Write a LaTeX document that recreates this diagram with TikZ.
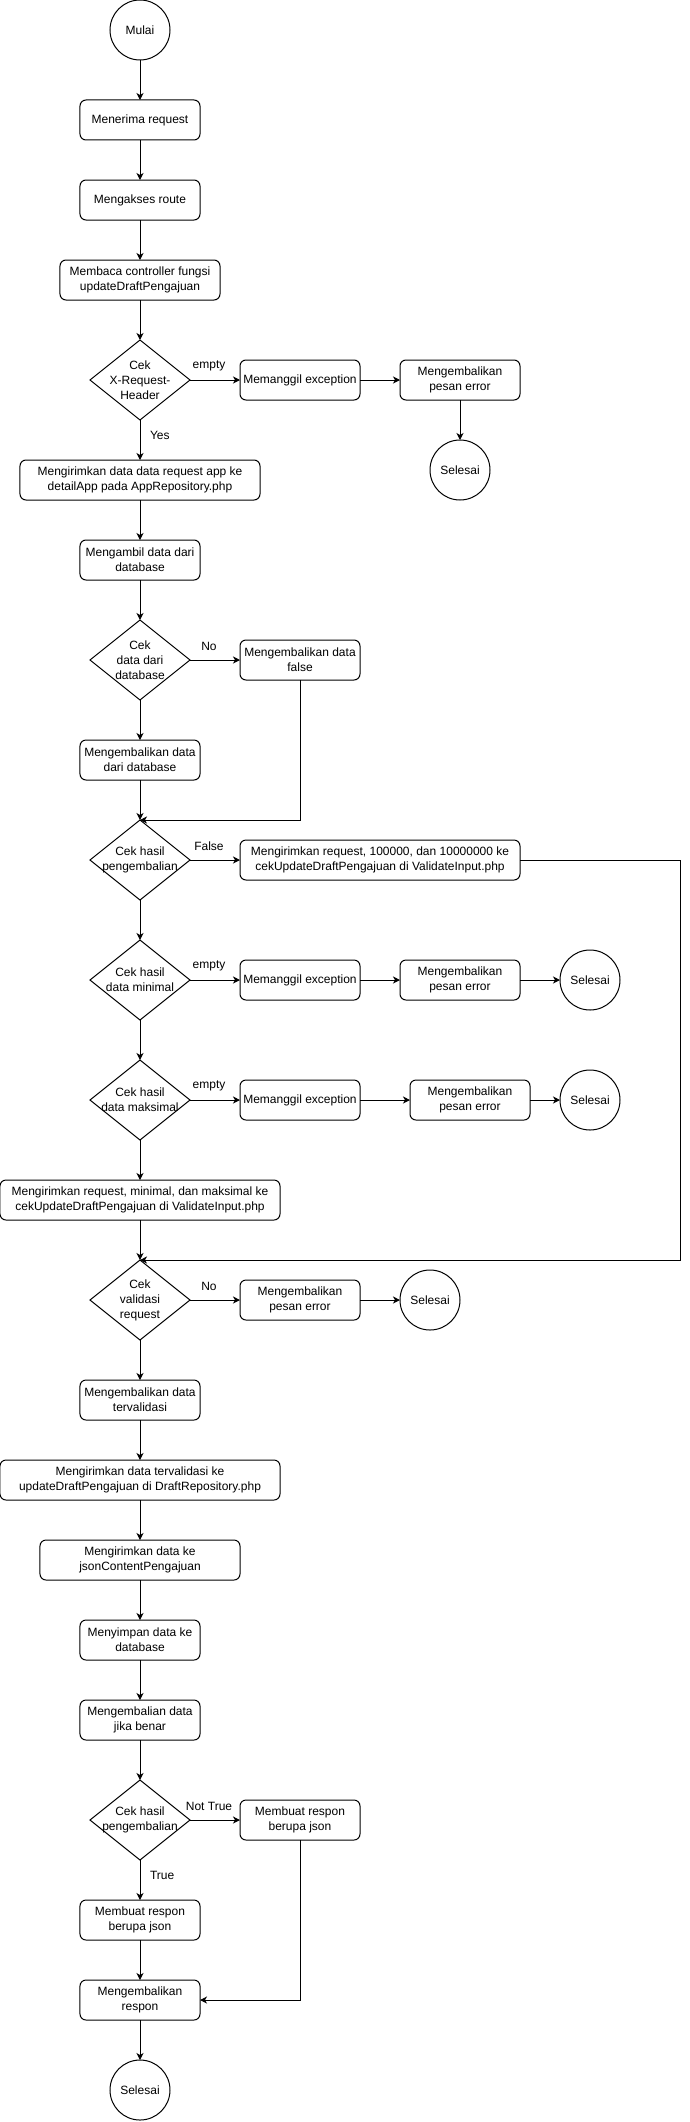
\documentclass[tikz,border=0pt]{standalone}
\usepackage{fontspec}
\setmainfont{Liberation Sans}
\usetikzlibrary{shapes.geometric, positioning, arrows.meta}

\begin{document}
\begin{tikzpicture}[
    x=1pt, y=1pt,
    >={Stealth[length=7pt, width=7pt, inset=2pt]},
    line width=1pt,
    font=\fontsize{12}{15}\selectfont,
    node distance=40pt,
    every node/.style={outer sep=0pt},
    procBox/.style={draw, rectangle, rounded corners=6pt, minimum width=120pt, minimum height=40pt, align=center, inner sep=2pt},
    decision/.style={draw, diamond, minimum width=100pt, minimum height=80pt, inner sep=-8pt, align=center},
    terminal/.style={draw, circle, minimum size=60pt, inner sep=0pt},
    edgeLabel/.style={inner sep=1pt},
  ]
  \useasboundingbox (-140,30) rectangle (549,-2092);
  % main flow
  \node[terminal] (mulai) at (0,0) {Mulai};
  \node[procBox, below=of mulai] (terima) {Menerima request};
  \node[procBox, below=of terima] (akses) {Mengakses route};
  \node[procBox, minimum width=160pt, below=of akses] (baca) {Membaca controller fungsi\\updateDraftPengajuan};
  \node[decision, below=of baca] (cekHeader) {Cek\\X-Request-\\Header};
  \node[procBox, minimum width=240pt, below=of cekHeader] (kirimApp) {Mengirimkan data data request app ke\\detailApp pada AppRepository.php};
  \node[procBox, below=of kirimApp] (ambil) {Mengambil data dari\\database};
  \node[decision, below=of ambil] (cekData) {Cek\\data dari\\database};
  \node[procBox, below=of cekData] (balikData) {Mengembalikan data\\dari database};
  \node[decision, below=of balikData] (cekHasil) {Cek hasil\\pengembalian};
  \node[decision, below=of cekHasil] (cekMin) {Cek hasil\\data minimal};
  \node[decision, below=of cekMin] (cekMax) {Cek hasil\\data maksimal};
  \node[procBox, minimum width=280pt, below=of cekMax] (kirimMinMax) {Mengirimkan request, minimal, dan maksimal ke\\cekUpdateDraftPengajuan di ValidateInput.php};
  \node[decision, below=of kirimMinMax] (cekValid) {Cek\\validasi\\request};
  \node[procBox, below=of cekValid] (balikValid) {Mengembalikan data\\tervalidasi};
  \node[procBox, minimum width=280pt, below=of balikValid] (kirimDraft) {Mengirimkan data tervalidasi ke\\updateDraftPengajuan di DraftRepository.php};
  \node[procBox, minimum width=200pt, below=of kirimDraft] (kirimJson) {Mengirimkan data ke\\jsonContentPengajuan};
  \node[procBox, below=of kirimJson] (simpan) {Menyimpan data ke\\database};
  \node[procBox, below=of simpan] (balikBenar) {Mengembalian data\\jika benar};
  \node[decision, below=of balikBenar] (cekAkhir) {Cek hasil\\pengembalian};
  \node[procBox, below=of cekAkhir] (responTrue) {Membuat respon\\berupa json};
  \node[procBox, below=of responTrue] (kembaliRespon) {Mengembalikan\\respon};
  \node[terminal, below=of kembaliRespon] (selesaiAkhir) {Selesai};
  % side branches
  \node[procBox, right=50pt of cekHeader] (exc1) {Memanggil exception};
  \node[procBox, right=of exc1] (err1) {Mengembalikan\\pesan error};
  \node[terminal, below=of err1] (selesai1) {Selesai};
  \node[procBox, right=50pt of cekData] (balikFalse) {Mengembalikan data\\false};
  \node[procBox, minimum width=280pt, right=50pt of cekHasil] (kirimBatas) {Mengirimkan request, 100000, dan 10000000 ke\\cekUpdateDraftPengajuan di ValidateInput.php};
  \node[procBox, right=50pt of cekMin] (exc2) {Memanggil exception};
  \node[procBox, right=of exc2] (err2) {Mengembalikan\\pesan error};
  \node[terminal, right=of err2] (selesai2) {Selesai};
  \node[procBox, right=50pt of cekMax] (exc3) {Memanggil exception};
  \node[procBox, right=50pt of exc3] (err3) {Mengembalikan\\pesan error};
  \node[terminal, right=30pt of err3] (selesai3) {Selesai};
  \node[procBox, right=50pt of cekValid] (err4) {Mengembalikan\\pesan error};
  \node[terminal, right=of err4] (selesai4) {Selesai};
  \node[procBox, right=50pt of cekAkhir] (responFalse) {Membuat respon\\berupa json};
  \coordinate (rightEdge) at (540,0);
  % lines
  \draw[->] (mulai) -- (terima);
  \draw[->] (terima) -- (akses);
  \draw[->] (akses) -- (baca);
  \draw[->] (baca) -- (cekHeader);
  \draw[->] (cekHeader) -- node[edgeLabel, pos=0.375, right=9pt] {Yes} (kirimApp);
  \draw[->] (cekHeader) -- node[edgeLabel, pos=0.38, above=8pt] {empty} (exc1);
  \draw[->] (exc1) -- (err1);
  \draw[->] (err1) -- (selesai1);
  \draw[->] (kirimApp) -- (ambil);
  \draw[->] (ambil) -- (cekData);
  \draw[->] (cekData) -- node[edgeLabel, pos=0.38, above=8pt] {No} (balikFalse);
  \draw[->] (cekData) -- (balikData);
  \draw[->] (balikData) -- (cekHasil);
  \draw[->] (balikFalse) |- (cekHasil.north);
  \draw[->] (cekHasil) -- node[edgeLabel, pos=0.38, above=8pt] {False} (kirimBatas);
  \draw[->] (kirimBatas) -- (kirimBatas -| rightEdge) |- (cekValid.north);
  \draw[->] (cekHasil) -- (cekMin);
  \draw[->] (cekMin) -- node[edgeLabel, pos=0.38, above=8pt] {empty} (exc2);
  \draw[->] (exc2) -- (err2);
  \draw[->] (err2) -- (selesai2);
  \draw[->] (cekMin) -- (cekMax);
  \draw[->] (cekMax) -- node[edgeLabel, pos=0.38, above=8pt] {empty} (exc3);
  \draw[->] (exc3) -- (err3);
  \draw[->] (err3) -- (selesai3);
  \draw[->] (cekMax) -- (kirimMinMax);
  \draw[->] (kirimMinMax) -- (cekValid);
  \draw[->] (cekValid) -- node[edgeLabel, pos=0.38, above=8pt] {No} (err4);
  \draw[->] (err4) -- (selesai4);
  \draw[->] (cekValid) -- (balikValid);
  \draw[->] (balikValid) -- (kirimDraft);
  \draw[->] (kirimDraft) -- (kirimJson);
  \draw[->] (kirimJson) -- (simpan);
  \draw[->] (simpan) -- (balikBenar);
  \draw[->] (balikBenar) -- (cekAkhir);
  \draw[->] (cekAkhir) -- node[edgeLabel, pos=0.38, above=8pt] {Not True} (responFalse);
  \draw[->] (cekAkhir) -- node[edgeLabel, pos=0.375, right=9pt] {True} (responTrue);
  \draw[->] (responTrue) -- (kembaliRespon);
  \draw[->] (responFalse) |- (kembaliRespon);
  \draw[->] (kembaliRespon) -- (selesaiAkhir);
\end{tikzpicture}
\end{document}
